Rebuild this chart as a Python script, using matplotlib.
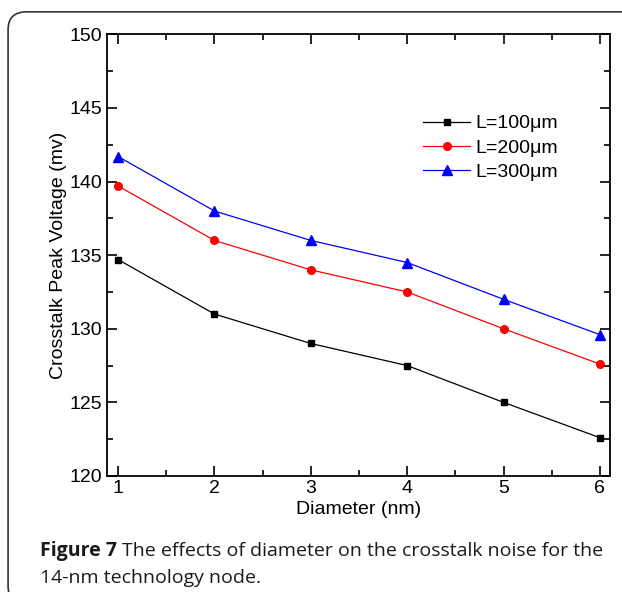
import matplotlib
matplotlib.use("Agg")
from matplotlib import pyplot as plt
from matplotlib.patches import FancyBboxPatch

# donnees
diameter = [1, 2, 3, 4, 5, 6]
peak_100 = [134.7, 131.0, 129.0, 127.5, 125.0, 122.6]
peak_200 = [139.7, 136.0, 134.0, 132.5, 130.0, 127.6]
peak_300 = [141.7, 138.0, 136.0, 134.5, 132.0, 129.6]
labels = ["L=100\u03bcm", "L=200\u03bcm", "L=300\u03bcm"]

plt.rcParams["font.family"] = ["Liberation Sans", "DejaVu Sans"]

fig = plt.figure(figsize=(6.22, 5.92), dpi=100)

# cadre arrondi autour de la figure
frame = FancyBboxPatch((0.013, -0.02), 1.05, 1.0, boxstyle="round,pad=0,rounding_size=0.03",
                       transform=fig.transFigure, fill=False, edgecolor="#333333", linewidth=1.2)
fig.patches.append(frame)

ax = fig.add_axes([0.172, 0.196, 0.808, 0.746])
ax.plot(diameter, peak_100, color="black", marker="s", markersize=5, linewidth=0.9, label=labels[0])
ax.plot(diameter, peak_200, color="red", marker="o", markersize=5.5, linewidth=0.9, label=labels[1])
ax.plot(diameter, peak_300, color="blue", marker="^", markersize=6.5, linewidth=0.9, label=labels[2])

ax.set_xlim(0.885, 6.1)
ax.set_ylim(120, 150)
ax.set_xticks([1, 2, 3, 4, 5, 6])
ax.set_xticks([1.5, 2.5, 3.5, 4.5, 5.5], minor=True)
ax.set_yticks([120, 125, 130, 135, 140, 145, 150])
ax.set_yticks([122.5, 127.5, 132.5, 137.5, 142.5, 147.5], minor=True)
ax.tick_params(which="both", direction="in", top=True, right=True, labelsize=14, width=1.2)
ax.tick_params(which="major", length=7)
ax.tick_params(which="minor", length=4)
ax.tick_params(axis="x", pad=3)
for sp in ax.spines.values():
    sp.set_linewidth(1.3)

ax.set_xlabel("Diameter (nm)", fontsize=14, labelpad=3)
ax.set_ylabel("Crosstalk Peak Voltage (mv)", fontsize=14, labelpad=2)

ax.legend(loc="upper left", bbox_to_anchor=(0.61, 0.84), frameon=False, fontsize=14,
          handlelength=2.4, handletextpad=0.3, labelspacing=0.35, borderpad=0)

# legende de la figure : "Figure 7" en gras puis le reste
cap_color = "#1a1a1a"
t1 = fig.text(0.064, 0.069, "Figure 7", fontsize=14, family="Open Sans", weight="bold",
              color=cap_color, va="center")
fig.canvas.draw()
bb = t1.get_window_extent().transformed(fig.transFigure.inverted())
fig.text(bb.x1 + 0.008, 0.069, "The effects of diameter on the crosstalk noise for the",
         fontsize=14, family="Open Sans", color=cap_color, va="center")
fig.text(0.064, 0.024, "14-nm technology node.", fontsize=14, family="Open Sans",
         color=cap_color, va="center")

fig.savefig("out.png", dpi=100)
